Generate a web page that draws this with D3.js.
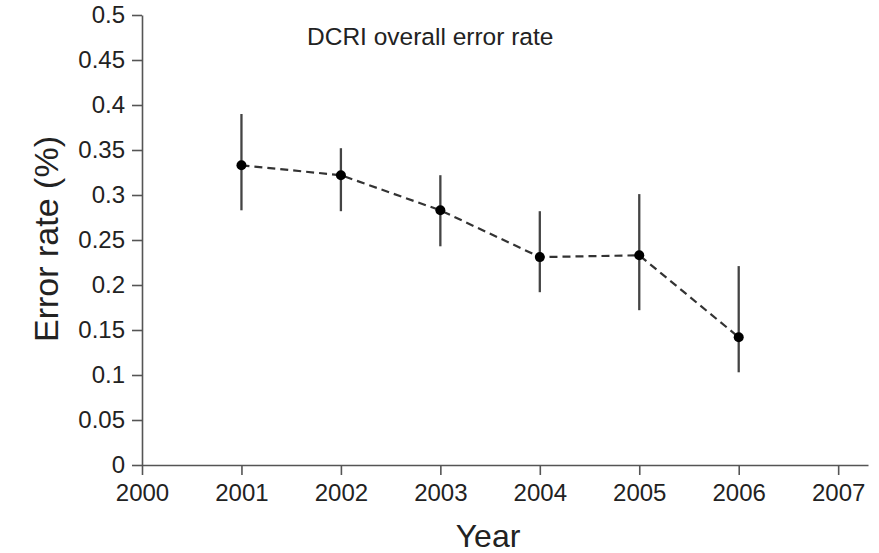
<!DOCTYPE html>
<html>
<head>
<meta charset="utf-8">
<script src="https://cdn.jsdelivr.net/npm/d3@7"></script>
<style>
  body { margin: 0; background: #fff; }
  svg { display: block; font-family: "Liberation Sans", Arial, sans-serif; }
</style>
</head>
<body>
<div id="chart"></div>
<script>
const years = [2001, 2002, 2003, 2004, 2005, 2006]
const rates = [0.333, 0.322, 0.283, 0.231, 0.233, 0.142]
const lower = [0.283, 0.282, 0.243, 0.192, 0.172, 0.103]
const upper = [0.39, 0.352, 0.322, 0.282, 0.301, 0.221]
const xTicks = [2000, 2001, 2002, 2003, 2004, 2005, 2006, 2007]
const yTicks = [0, 0.05, 0.1, 0.15, 0.2, 0.25, 0.3, 0.35, 0.4, 0.45, 0.5]

const width = 879
const height = 553
const margin = [15, 11, 88, 142] // top right bottom left

const x = d3.scaleLinear()
  .domain([2000, 2007.3])
  .range([margin[3], width - margin[1]])
const y = d3.scaleLinear()
  .domain([0, 0.5])
  .range([height - margin[2], margin[0]])

const svg = d3.select("#chart").append("svg")
  .attr("width", width)
  .attr("height", height)
  .attr("viewBox", [0, 0, width, height])

const axisColor = "#555"
const textColor = "#222"

// x axis
const gx = svg.append("g")
  .attr("transform", `translate(0,${y(0)})`)
  .call(d3.axisBottom(x).tickValues(xTicks).tickFormat(d3.format("d")).tickSize(10).tickSizeOuter(0).tickPadding(9))
gx.select(".domain").attr("stroke", axisColor).attr("stroke-width", 1.6)
gx.selectAll(".tick line").attr("stroke", axisColor).attr("stroke-width", 1.6)
gx.selectAll(".tick text").attr("fill", textColor).style("font-size", "24px")

// y axis
const gy = svg.append("g")
  .attr("transform", `translate(${x(2000)},0)`)
  .call(d3.axisLeft(y).tickValues(yTicks).tickFormat(d => d3.format("")(d)).tickSize(10).tickSizeOuter(0).tickPadding(7))
gy.select(".domain").attr("stroke", axisColor).attr("stroke-width", 1.6)
gy.selectAll(".tick line").attr("stroke", axisColor).attr("stroke-width", 1.6)
gy.selectAll(".tick text").attr("fill", textColor).style("font-size", "24px")

// axis titles
svg.append("text")
  .attr("x", 488)
  .attr("y", 547)
  .attr("text-anchor", "middle")
  .attr("fill", textColor)
  .style("font-size", "32px")
  .text("Year")

svg.append("text")
  .attr("transform", `translate(58,${y(0.25) - 1})rotate(-90)`)
  .attr("text-anchor", "middle")
  .attr("fill", textColor)
  .style("font-size", "34px")
  .text("Error rate (%)")

svg.append("text")
  .attr("x", 307)
  .attr("y", 45)
  .attr("fill", textColor)
  .style("font-size", "24.5px")
  .text("DCRI overall error rate")

// error bars
svg.append("g")
  .attr("stroke", "#444")
  .attr("stroke-width", 2.3)
  .selectAll("line")
  .data(d3.range(years.length))
  .join("line")
  .attr("x1", i => x(years[i]))
  .attr("x2", i => x(years[i]))
  .attr("y1", i => y(lower[i]))
  .attr("y2", i => y(upper[i]))

// dashed connecting line
const line = d3.line()
  .x(i => x(years[i]))
  .y(i => y(rates[i]))
svg.append("path")
  .datum(d3.range(years.length))
  .attr("fill", "none")
  .attr("stroke", "#333")
  .attr("stroke-width", 2.2)
  .attr("stroke-dasharray", "8,5")
  .attr("d", line)

// points
svg.append("g")
  .attr("fill", "#000")
  .selectAll("circle")
  .data(d3.range(years.length))
  .join("circle")
  .attr("cx", i => x(years[i]))
  .attr("cy", i => y(rates[i]))
  .attr("r", 5)
</script>
</body>
</html>
